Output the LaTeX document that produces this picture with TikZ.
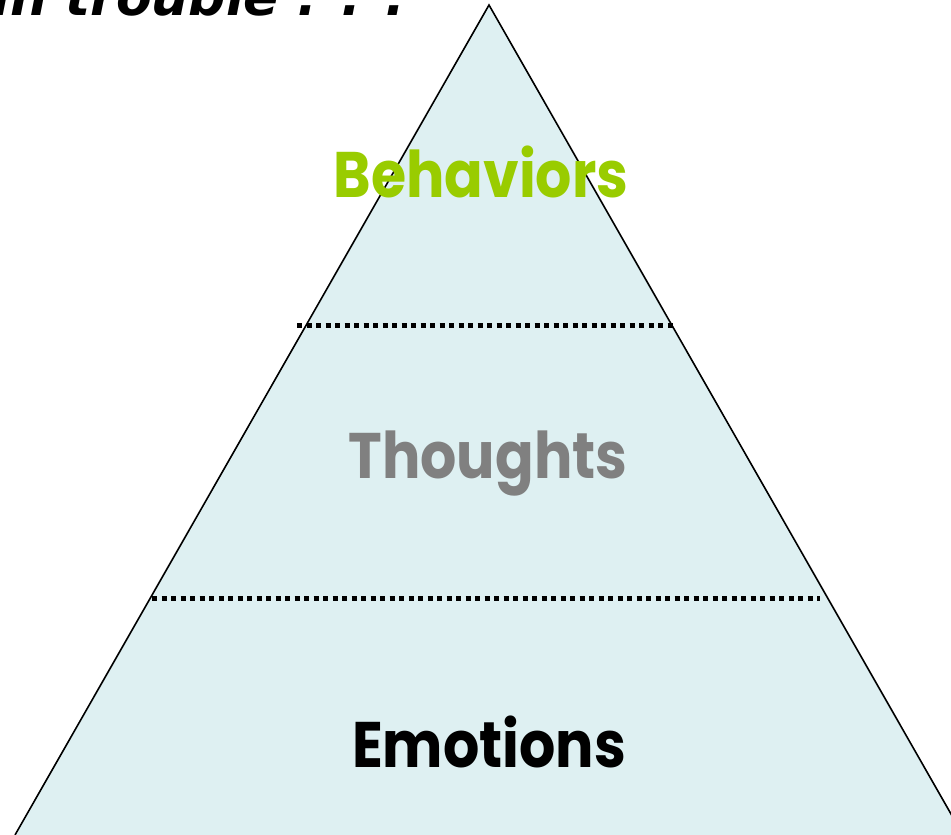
\documentclass[tikz,border=0pt]{standalone}
\usepackage{fontspec}
\setmainfont{Poppins}
\newfontfamily\titlefont{DejaVu Sans}
\definecolor{pyrfill}{RGB}{222,240,242}
\definecolor{behgreen}{RGB}{153,204,0}
\definecolor{thgray}{RGB}{128,128,128}
\newcommand{\tallword}[1]{\scalebox{1}[1.13]{#1}}
\tikzset{
  level/.style={font=\fontsize{57}{64}\selectfont\bfseries, inner sep=0pt, anchor=base},
  divider/.style={line width=5pt, dash pattern=on 5pt off 4.5pt},
}
\begin{document}
\begin{tikzpicture}[x=1pt,y=-1pt]
\useasboundingbox (0,0) rectangle (951,835);
\clip (0,0) rectangle (951,835);
\coordinate (apex) at (489,5);
\coordinate (bl) at (15,835);
\coordinate (br) at (963,835);
\fill[pyrfill] (apex) -- (bl) -- (br) -- cycle;
\draw[black, line width=1.6pt, line join=miter] (bl) -- (apex) -- (br);
\coordinate (d1l) at (297,325); \coordinate (d1r) at (675,325);
\coordinate (d2l) at (152,598); \coordinate (d2r) at (820,598);
\draw[divider] (d1l) -- (d1r);
\draw[divider] (d2l) -- (d2r);
\node[level, text=behgreen] (beh) at (481,197) {\tallword{Behaviors}};
\node[level, text=thgray] (tho) at (488,478) {\tallword{Thoughts}};
\node[level, text=black] (emo) at (489,767) {\tallword{Emotions}};
\node[font=\titlefont\fontsize{52}{60}\selectfont\bfseries\itshape, anchor=base east, inner sep=0pt] (title) at (405,16) {in trouble . . .};
\end{tikzpicture}
\end{document}
